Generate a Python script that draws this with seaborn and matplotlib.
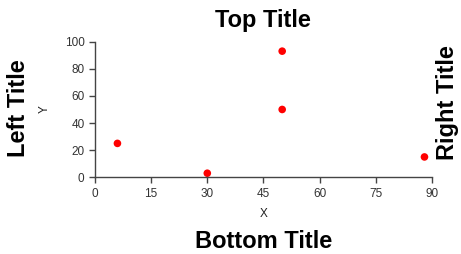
import seaborn as sns
from matplotlib import pyplot as plt
import pandas as pd

# Datos
x_vals = [6, 30, 50, 50, 88]
y_vals = [25, 3, 93, 50, 15]
x_ticks = [0, 15, 30, 45, 60, 75, 90]
y_ticks = [0, 20, 40, 60, 80, 100]

sns.set_style("white")
plt.rcParams['font.family'] = ['Liberation Sans', 'DejaVu Sans']

datos = pd.DataFrame({"X": x_vals, "Y": y_vals})

fig = plt.figure(figsize=(4.61, 2.54), dpi=100)
ax = fig.add_axes([0.206, 0.302, 0.731, 0.534])

sns.scatterplot(data=datos, x="X", y="Y", color="#ff0000", s=30,
                edgecolor="none", ax=ax, clip_on=False)

ax.set_xlim(0, 90)
ax.set_ylim(0, 100)
ax.set_xticks(x_ticks)
ax.set_yticks(y_ticks)

gris = "#444444"
for lado in ["top", "right"]:
    ax.spines[lado].set_visible(False)
for lado in ["left", "bottom"]:
    ax.spines[lado].set_color(gris)
    ax.spines[lado].set_linewidth(1)
ax.tick_params(axis="both", colors=gris, labelsize=8.5, length=4, width=1,
               direction="out", left=True, bottom=True)
for t in ax.get_xticklabels() + ax.get_yticklabels():
    t.set_color("#333333")

ax.set_xlabel("X", fontsize=8.5, color="#222222", labelpad=6)
ax.set_ylabel("Y", fontsize=8.5, color="#222222", labelpad=10)

# Titulos en los cuatro lados
fig.text(0.571, 0.92, "Top Title", ha="center", va="center",
         fontsize=17, fontweight="bold", color="black")
fig.text(0.571, 0.05, "Bottom Title", ha="center", va="center",
         fontsize=17, fontweight="bold", color="black")
fig.text(0.04, 0.575, "Left Title", ha="center", va="center",
         fontsize=17, fontweight="bold", rotation=90, color="black")
fig.text(0.97, 0.595, "Right Title", ha="center", va="center",
         fontsize=17, fontweight="bold", rotation=90, color="black")

fig.savefig("out.png", dpi=100)
